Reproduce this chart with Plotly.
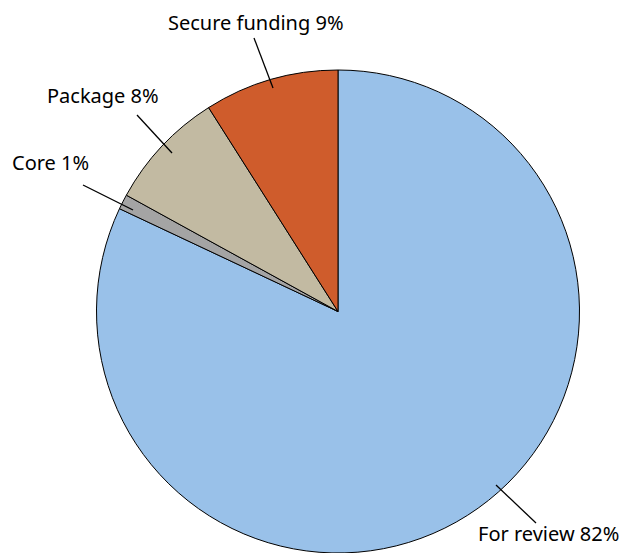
import plotly.graph_objects as go

labels = ["For review", "Core", "Package", "Secure funding"]
values = [82, 1, 8, 9]
colors = ["#99C1E9", "#A4A4A4", "#C2BAA2", "#CF5C2C"]

W, H = 622, 553
ML, MR, MT, MB = 0, 0, 70, 0
PW, PH = W - ML - MR, H - MT - MB
R = PH / 2
CX = 338

def px(x):
    return (x - ML) / PW

def py(y):
    return 1 - (y - MT) / PH

fig = go.Figure(go.Pie(
    labels=labels, values=values, sort=False, direction="clockwise", rotation=0,
    marker=dict(colors=colors, line=dict(color="black", width=1)),
    textinfo="none", hoverinfo="label+percent",
    domain=dict(x=[px(CX - R), px(CX + R)], y=[0, 1]),
    showlegend=False,
))

# label annotations (text centre, leader line outer point, inner point) in pixels
label_pos = {
    "Secure funding": ((256, 22), (254, 38), (273, 88)),
    "Package": ((103, 95), (137, 115), (172, 153)),
    "Core": ((50, 162), (83, 185), (133, 210)),
    "For review": ((548, 533), (536, 523), (496, 485)),
}
total = sum(values)
for lab, val in zip(labels, values):
    (tx, ty), (ox, oy), (ix, iy) = label_pos[lab]
    pct = round(100 * val / total)
    fig.add_annotation(x=px(tx), y=py(ty), xref="paper", yref="paper",
                       text=f"{lab} {pct}%", showarrow=False,
                       font=dict(family="Noto Sans", size=20, color="black"),
                       xanchor="center", yanchor="middle")
    fig.add_shape(type="line", xref="paper", yref="paper",
                  x0=px(ox), y0=py(oy), x1=px(ix), y1=py(iy),
                  line=dict(color="black", width=1.3))

fig.update_layout(width=W, height=H, margin=dict(l=ML, r=MR, t=MT, b=MB),
                  paper_bgcolor="white", plot_bgcolor="white")
fig.write_html("out.html")
